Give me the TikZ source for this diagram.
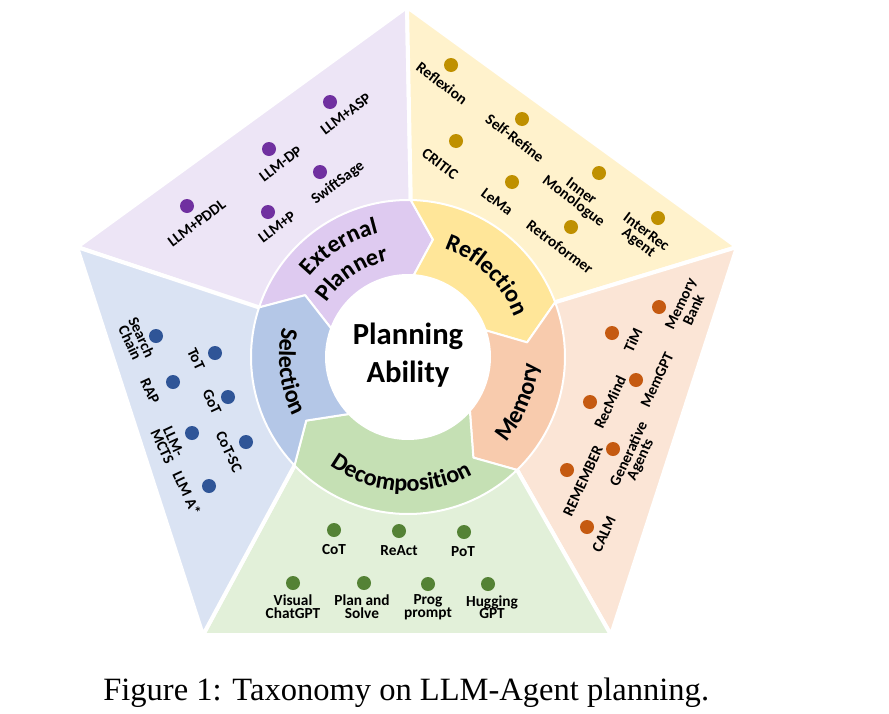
\documentclass[tikz,border=0pt]{standalone}
\usepackage{fontspec}
\setmainfont{Liberation Serif}
\newfontfamily\lblfont{Carlito}
\usetikzlibrary{calc,decorations.text}
\definecolor{puO}{HTML}{EDE5F6}
\definecolor{puR}{HTML}{DECAF0}
\definecolor{puD}{HTML}{7030A0}
\definecolor{yeO}{HTML}{FFF2CC}
\definecolor{yeR}{HTML}{FFE699}
\definecolor{yeD}{HTML}{BF9000}
\definecolor{piO}{HTML}{FBE5D6}
\definecolor{piR}{HTML}{F8CBAD}
\definecolor{piD}{HTML}{C55A11}
\definecolor{grO}{HTML}{E2F0D9}
\definecolor{grR}{HTML}{C5E0B4}
\definecolor{grD}{HTML}{548235}
\definecolor{blO}{HTML}{DAE3F3}
\definecolor{blR}{HTML}{B4C7E7}
\definecolor{blD}{HTML}{2F5597}
\newcommand\ringfont{\lblfont\bfseries\fontsize{18}{20}\selectfont}
% #1 colour, #2 outer ccw, #3 notch, #4 inner ccw, #5 outer cw, #6 tip, #7 inner cw
\newcommand\ringseg[7]{%
  \filldraw[fill=#1,draw=white,line width=1.5pt,line join=round]
   ($(C)+(#2:157)$) arc[start angle=#2,end angle=#5,radius=157]
   -- ($(C)+(#6:120)$) -- ($(C)+(#7:82)$)
   arc[start angle=#7,end angle=#4,radius=82]
   -- ($(C)+(#3:120)$) -- cycle;}
\newcommand\ringlabel[4]{%
  \begin{scope}[shift={(1.3,1.6)}]
  \path[decorate,decoration={text along path,text align=center,
     text={|\ringfont\color{black!30}|#4}}]
     ($(C)+(#1:#3)$) arc[start angle=#1,end angle=#2,radius=#3];
  \end{scope}
  \path[decorate,decoration={text along path,text align=center,
     text={|\ringfont|#4}}]
     ($(C)+(#1:#3)$) arc[start angle=#1,end angle=#2,radius=#3];}
\tikzset{
  sector/.style={draw=white,line width=3pt,line join=round},
  dot/.style={circle,fill=#1,minimum size=10.5pt,inner sep=0pt},
  lbl/.style={font=\lblfont\bfseries\fontsize{11.5}{9.5}\selectfont,align=center,inner sep=0pt}
}
\begin{document}
\begin{tikzpicture}[x=0.75pt,y=-0.75pt]
\useasboundingbox (0,0) rectangle (889,714);
\coordinate (C) at (408,357);
\coordinate (VT) at (407,7);
\coordinate (VR) at (737,247);
\coordinate (VBR) at (611,635);
\coordinate (VBL) at (203,635);
\coordinate (VL) at (77,247);
% outer sectors
\filldraw[fill=puO,sector] (C) -- ($(C)+(-161.6:157)$) -- (VL) -- (VT) -- ($(C)+(-89:157)$) -- cycle;
\filldraw[fill=yeO,sector] (C) -- ($(C)+(-89:157)$) -- (VT) -- (VR) -- ($(C)+(-20.4:157)$) -- cycle;
\filldraw[fill=piO,sector] (C) -- ($(C)+(-20.4:157)$) -- (VR) -- (VBR) -- ($(C)+(46:157)$) -- cycle;
\filldraw[fill=grO,sector] (C) -- ($(C)+(46:157)$) -- (VBR) -- (VBL) -- ($(C)+(136.3:157)$) -- cycle;
\filldraw[fill=blO,sector] (C) -- ($(C)+(136.3:157)$) -- (VBL) -- (VL) -- ($(C)+(-161.6:157)$) -- cycle;
% ring
\ringseg{puR}{-161.6}{-149}{-159.6}{-89}{-78}{-86}
\ringseg{yeR}{-89}{-78}{-86}{-20.4}{-7}{-19}
\ringseg{piR}{-20.4}{-7}{-19}{46}{57}{41}
\ringseg{grR}{46}{57}{41}{136.3}{148}{136}
\ringseg{blR}{136.3}{148}{136}{198.4}{211}{200.4}
% ring labels
\ringlabel{-172}{-72}{127}{External}
\ringlabel{-174}{-74}{98}{Planner}
\ringlabel{-96}{4}{114}{Reflection}
\ringlabel{70}{-26}{130}{Memory}
\ringlabel{150}{37}{134}{Decomposition}
\ringlabel{-137}{-237}{129}{Selection}
% centre
\fill[white] (C) circle[radius=82];
\node[font=\lblfont\bfseries\fontsize{23}{28}\selectfont,anchor=base,inner sep=0pt] (pa1) at (408,344) {Planning};
\node[font=\lblfont\bfseries\fontsize{23}{28}\selectfont,anchor=base,inner sep=0pt] (pa2) at (408,382) {Ability};
% External Planner
\node[dot=puD] (e1) at (330,102) {}; \node[lbl,rotate=37] (le1) at (345.7,114) {LLM+ASP};
\node[dot=puD] (e2) at (269,149) {}; \node[lbl,rotate=37] (le2) at (280.7,164) {LLM-DP};
\node[dot=puD] (e3) at (320,172) {}; \node[lbl,rotate=37] (le3) at (338,183) {SwiftSage};
\node[dot=puD] (e4) at (187,206) {}; \node[lbl,rotate=37] (le4) at (196.7,223) {LLM+PDDL};
\node[dot=puD] (e5) at (268,212) {}; \node[lbl,rotate=37] (le5) at (277,227) {LLM+P};
% Reflection
\node[dot=yeD] (r1) at (451,65) {};  \node[lbl,rotate=-37] (lr1) at (442,83) {Reflexion};
\node[dot=yeD] (r2) at (522,119) {}; \node[lbl,rotate=-37] (lr2) at (515,138) {Self-Refine};
\node[dot=yeD] (r3) at (456,141) {}; \node[lbl,rotate=-37] (lr3) at (440,164) {CRITIC};
\node[dot=yeD] (r4) at (512,182) {}; \node[lbl,rotate=-37] (lr4) at (497,202) {LeMa};
\node[dot=yeD] (r5) at (599,173) {}; \node[lbl,rotate=-37] (lr5) at (577,197) {Inner\\Monologue};
\node[dot=yeD] (r6) at (571,227) {}; \node[lbl,rotate=-37] (lr6) at (560,247) {Retroformer};
\node[dot=yeD] (r7) at (658,218) {}; \node[lbl,rotate=-37] (lr7) at (642,238) {InterRec\\Agent};
% Selection
\node[dot=blD] (s1) at (156,336) {}; \node[lbl,rotate=-65] (ls1) at (136,340) {Search\\Chain};
\node[dot=blD] (s2) at (215,353) {}; \node[lbl,rotate=-65] (ls2) at (196,359) {ToT};
\node[dot=blD] (s3) at (173,382) {}; \node[lbl,rotate=-65] (ls3) at (150,391) {RAP};
\node[dot=blD] (s4) at (228,397) {}; \node[lbl,rotate=-65] (ls4) at (212,402) {GoT};
\node[dot=blD] (s5) at (192,433) {}; \node[lbl,rotate=-65] (ls5) at (168,444) {LLM-\\MCTS};
\node[dot=blD] (s6) at (246,442) {}; \node[lbl,rotate=-65] (ls6) at (229,452) {CoT-SC};
\node[dot=blD] (s7) at (209,486) {}; \node[lbl,rotate=-65] (ls7) at (187,493) {LLM A*};
% Memory
\node[dot=piD] (m1) at (659,307) {}; \node[lbl,rotate=65] (lm1) at (687,307) {Memory\\Bank};
\node[dot=piD] (m2) at (612,333) {}; \node[lbl,rotate=65] (lm2) at (633,340) {TiM};
\node[dot=piD] (m3) at (636,380) {}; \node[lbl,rotate=65] (lm3) at (657,380) {MemGPT};
\node[dot=piD] (m4) at (590,402) {}; \node[lbl,rotate=65] (lm4) at (610,402) {RecMind};
\node[dot=piD] (m5) at (613,449) {}; \node[lbl,rotate=65] (lm5) at (635,457) {Generative\\Agents};
\node[dot=piD] (m6) at (567,470) {}; \node[lbl,rotate=65] (lm6) at (583,481) {REMEMBER};
\node[dot=piD] (m7) at (587,527) {}; \node[lbl,rotate=65] (lm7) at (604,534) {CALM};
% Decomposition
\node[dot=grD] (g1) at (334,530) {}; \node[lbl] (lg1) at (334,550) {CoT};
\node[dot=grD] (g2) at (399,531) {}; \node[lbl] (lg2) at (399,551) {ReAct};
\node[dot=grD] (g3) at (464,532) {}; \node[lbl] (lg3) at (463,552) {PoT};
\node[dot=grD] (g4) at (293,583) {}; \node[lbl] (lg4) at (293,607) {Visual\\ChatGPT};
\node[dot=grD] (g5) at (364,583) {}; \node[lbl] (lg5) at (362,607) {Plan and\\Solve};
\node[dot=grD] (g6) at (428,584) {}; \node[lbl] (lg6) at (428,607) {Prog\\prompt};
\node[dot=grD] (g7) at (488,584) {}; \node[lbl] (lg7) at (492,607) {Hugging\\GPT};
% caption
\node[anchor=base west,inner sep=0pt,font=\fontsize{24.4}{28}\selectfont] (cap) at (103,700) {Figure 1: Taxonomy on LLM-Agent planning.};
\end{tikzpicture}
\end{document}
